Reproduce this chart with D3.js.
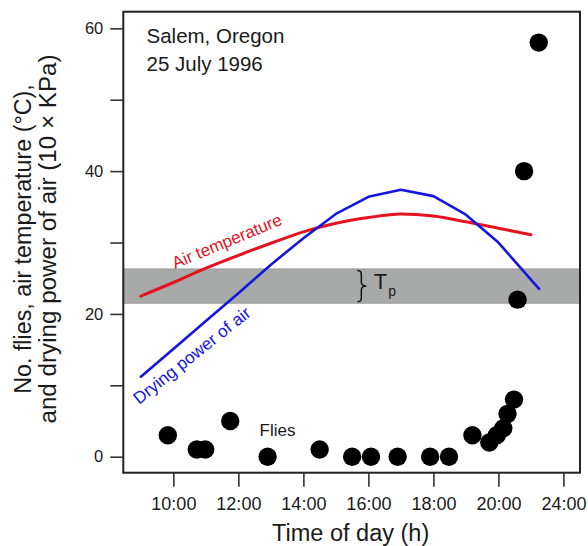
<!DOCTYPE html>
<html>
<head>
<meta charset="utf-8">
<script src="https://cdn.jsdelivr.net/npm/d3@7"></script>
<style>
  html, body { margin: 0; padding: 0; background: #fff; }
  svg { display: block; font-family: "Liberation Sans", Arial, Helvetica, sans-serif; }
</style>
</head>
<body>
<svg id="chart" width="588" height="546"></svg>
<script>
// ---- data ----
const tempTime   = [9, 10, 11, 12, 13, 14, 15, 16, 17, 18, 19, 20, 21];
const tempValues = [22.5, 24.4, 26.4, 28.2, 29.9, 31.5, 32.7, 33.5, 34.0, 33.7, 32.9, 32.0, 31.1];

const dryTime    = [9, 10, 11, 12, 13, 14, 15, 16, 17, 18, 19, 20, 21.25];
const dryValues  = [11.2, 15.1, 19.0, 22.9, 26.9, 30.6, 34.0, 36.4, 37.4, 36.5, 33.9, 30.0, 23.5];

const fliesTime  = [9.83, 10.72, 10.98, 11.75, 12.9, 14.5, 15.5, 16.08, 16.9, 17.9, 18.48, 19.2, 19.72, 19.95, 20.15, 20.28, 20.48, 20.59, 20.79, 21.24];
const fliesCount = [3, 1, 1, 5, 0, 1, 0, 0, 0, 0, 0, 3, 2, 3, 4, 6, 8, 22, 40, 58];

const tpBand     = [21.5, 26.3];

const xTickValues = [10, 12, 14, 16, 18, 20, 22];
const xTickLabels = ["10:00", "12:00", "14:00", "16:00", "18:00", "20:00", "24:00"];
const yMajorTicks = [0, 20, 40, 60];
const yMinorTicks = [10, 30, 50];

const titleLines = ["Salem, Oregon", "25 July 1996"];
const yTitleLines = ["No. flies, air temperature (\u00B0C),", "and drying power of air (10 \u00D7 KPa)"];
const xTitle = "Time of day (h)";

// ---- layout ----
const L = 123.3, R = 580, T = 11.7, B = 472.7;
const x = d3.scaleLinear().domain([8.46, 22.51]).range([L, R]);
const y = d3.scaleLinear().domain([-2.24, 62.33]).range([B, T]);

const svg = d3.select("#chart");
const ink = "#1a1a1a";

// grey Tp band
svg.append("rect")
  .attr("x", L).attr("width", R - L)
  .attr("y", y(tpBand[1])).attr("height", y(tpBand[0]) - y(tpBand[1]))
  .attr("fill", "#a8aaaa").attr("stroke", "#9a9c9c").attr("stroke-width", 1);

// lines
const tempData = tempTime.map((t, i) => [t, tempValues[i]]);
const dryData = dryTime.map((t, i) => [t, dryValues[i]]);

svg.append("path").datum(tempData)
  .attr("fill", "none").attr("stroke", "#e5121f").attr("stroke-width", 3)
  .attr("stroke-linecap", "round")
  .attr("d", d3.line().x(d => x(d[0])).y(d => y(d[1])).curve(d3.curveMonotoneX));

svg.append("path").datum(dryData)
  .attr("fill", "none").attr("stroke", "#1515e0").attr("stroke-width", 2.6)
  .attr("stroke-linecap", "round").attr("stroke-linejoin", "round")
  .attr("d", d3.line().x(d => x(d[0])).y(d => y(d[1])));

// flies
svg.append("g").selectAll("circle")
  .data(fliesTime.map((t, i) => [t, fliesCount[i]]))
  .join("circle")
  .attr("cx", d => x(d[0])).attr("cy", d => y(d[1])).attr("r", 9.2)
  .attr("fill", "#000");

// frame
svg.append("rect")
  .attr("x", L).attr("y", T).attr("width", R - L).attr("height", B - T)
  .attr("fill", "none").attr("stroke", "#222").attr("stroke-width", 2);

// x axis
const xAxis = d3.axisBottom(x).tickValues(xTickValues)
  .tickFormat((d, i) => xTickLabels[i]).tickSize(14).tickPadding(8);
const gx = svg.append("g").attr("transform", `translate(0,${B})`).call(xAxis);
gx.select(".domain").remove();
gx.selectAll(".tick line").attr("stroke", "#333").attr("stroke-width", 1.6);
gx.selectAll(".tick text").attr("fill", ink).attr("font-size", 18)
  .attr("font-family", "Liberation Sans, Arial, sans-serif").attr("dy", "0.85em");

// y axis major
const yAxis = d3.axisLeft(y).tickValues(yMajorTicks).tickSize(13).tickPadding(7);
const gy = svg.append("g").attr("transform", `translate(${L},0)`).call(yAxis);
gy.select(".domain").remove();
gy.selectAll(".tick line").attr("stroke", "#333").attr("stroke-width", 1.6);
gy.selectAll(".tick text").attr("fill", ink).attr("font-size", 16.5)
  .attr("font-family", "Liberation Sans, Arial, sans-serif");

// y axis minor
const yAxisMinor = d3.axisLeft(y).tickValues(yMinorTicks).tickSize(13).tickFormat("");
const gy2 = svg.append("g").attr("transform", `translate(${L},0)`).call(yAxisMinor);
gy2.select(".domain").remove();
gy2.selectAll(".tick line").attr("stroke", "#333").attr("stroke-width", 1.6);

// titles
svg.append("text").attr("x", (L + R) / 2 - 1).attr("y", 540.5)
  .attr("text-anchor", "middle").attr("font-size", 23.5).attr("fill", ink)
  .text(xTitle);

yTitleLines.forEach((line, i) => {
  svg.append("text")
    .attr("transform", `translate(${31 + i * 25},239) rotate(-90)`)
    .attr("text-anchor", "middle").attr("font-size", i === 0 ? 23.3 : 24.2).attr("fill", ink)
    .text(line);
});

titleLines.forEach((line, i) => {
  svg.append("text").attr("x", 146.5).attr("y", 42.7 + i * 28)
    .attr("font-size", 20.5).attr("fill", ink).text(line);
});

// series labels
svg.append("text").attr("x", 259.5).attr("y", 435.5)
  .attr("font-size", 17).attr("fill", ink).text("Flies");

svg.append("text")
  .attr("transform", `translate(175,269) rotate(-22.5)`)
  .attr("font-size", 17).attr("fill", "#e5121f").text("Air temperature");

svg.append("text")
  .attr("transform", `translate(139,405) rotate(-38.5)`)
  .attr("font-size", 17.2).attr("fill", "#1515e0").text("Drying power of air");

// Tp brace annotation
const bx = x(15.66), yt = y(tpBand[1]) + 1.5, yb = y(tpBand[0]) - 1.5, ym = (yt + yb) / 2;
const brace = `M${bx},${yt} C${bx + 4},${yt} ${bx + 4},${yt + 2} ${bx + 4},${yt + 5}
  L${bx + 4},${ym - 4} C${bx + 4},${ym - 1} ${bx + 6},${ym} ${bx + 9},${ym}
  C${bx + 6},${ym} ${bx + 4},${ym + 1} ${bx + 4},${ym + 4}
  L${bx + 4},${yb - 5} C${bx + 4},${yb - 2} ${bx + 4},${yb} ${bx},${yb}`;
svg.append("path").attr("d", brace).attr("fill", "none")
  .attr("stroke", "#111").attr("stroke-width", 1.5);

const tp = svg.append("text").attr("x", bx + 16.5).attr("y", ym + 3)
  .attr("font-size", 22).attr("fill", ink);
tp.append("tspan").text("T");
tp.append("tspan").attr("font-size", 14).attr("dx", 1).attr("dy", 7).text("p");
</script>
</body>
</html>
